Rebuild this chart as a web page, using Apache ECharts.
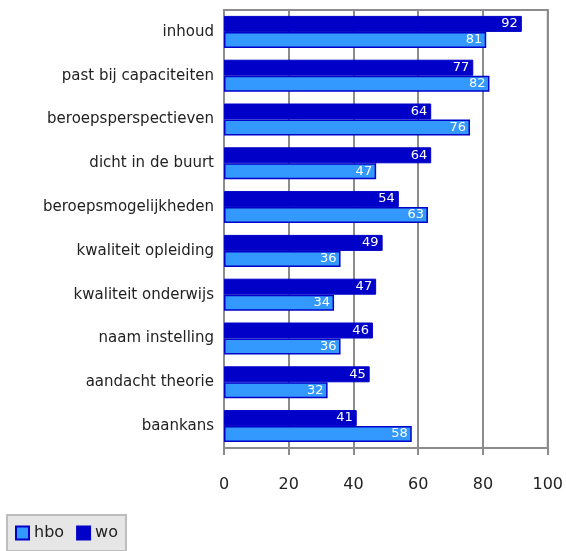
<!DOCTYPE html>
<html><head><meta charset="utf-8">
<script src="https://cdn.jsdelivr.net/npm/echarts@6/dist/echarts.min.js"></script>
<style>html,body{margin:0;padding:0;background:#fff}#c{width:566px;height:551px}</style>
</head><body><div id="c"></div>
<script>
const categories = ['inhoud','past bij capaciteiten','beroepsperspectieven','dicht in de buurt','beroepsmogelijkheden','kwaliteit opleiding','kwaliteit onderwijs','naam instelling','aandacht theorie','baankans'];
const hbo = [81,82,76,47,63,36,34,36,32,58];
const wo = [92,77,64,64,54,49,47,46,45,41];
const xTicks = [0,20,40,60,80,100];

const chart = echarts.init(document.getElementById('c'));
const lbl = {show:true, position:'insideRight', color:'#fff', fontSize:13, fontFamily:'DejaVu Sans', distance:4};
chart.setOption({
  animation:false,
  grid:{left:224, right:18, top:10, bottom:103, show:true, borderColor:'#8c8c8c', borderWidth:2, backgroundColor:'#fff'},
  legend:{left:7, top:515, itemWidth:13, itemHeight:13, itemGap:12, padding:[10,8,10,8], icon:'rect',
    backgroundColor:'#e6e6e6', borderColor:'#bdbdbd', borderWidth:2,
    textStyle:{fontSize:16, color:'#222', fontFamily:'DejaVu Sans'},
    data:['hbo','wo']},
  xAxis:{type:'value', min:xTicks[0], max:xTicks[xTicks.length-1], interval:20,
    axisLine:{show:true, lineStyle:{color:'#8c8c8c', width:2}},
    axisTick:{show:true, length:7, lineStyle:{color:'#8c8c8c', width:2}},
    splitLine:{show:true, lineStyle:{color:'#8c8c8c', width:2}},
    axisLabel:{fontSize:16, color:'#222', margin:29, fontFamily:'DejaVu Sans'}},
  yAxis:{type:'category', data:categories, inverse:true,
    axisLine:{show:true, lineStyle:{color:'#8c8c8c', width:2}},
    axisTick:{show:false}, splitLine:{show:false},
    axisLabel:{fontSize:15, color:'#222', margin:10, fontFamily:'DejaVu Sans'}},
  series:[
    {name:'wo', type:'bar', data:wo, barWidth:16, barGap:'0%', itemStyle:{color:'#0000c8', borderColor:'#0000c8', borderWidth:1}, label:lbl},
    {name:'hbo', type:'bar', data:hbo, barWidth:16, barGap:'0%', itemStyle:{color:'#3399ff', borderColor:'#0000c8', borderWidth:1.5}, label:lbl}
  ]
});
</script></body></html>
